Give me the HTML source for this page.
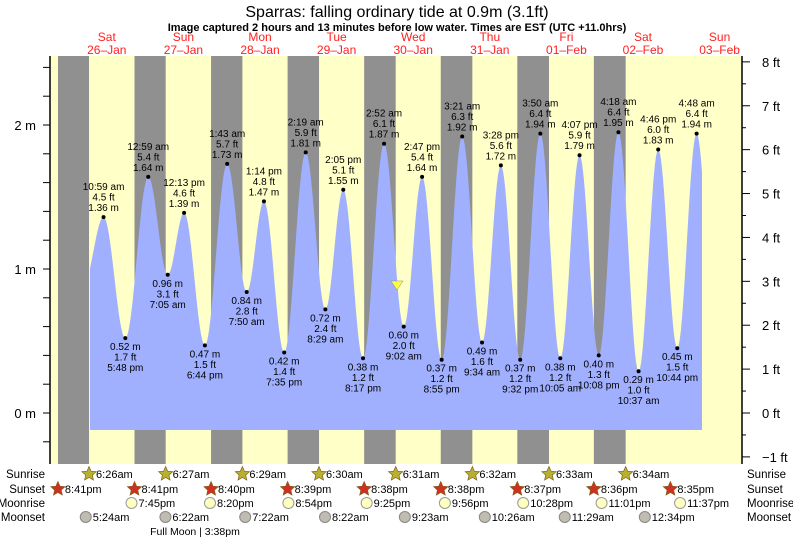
<!DOCTYPE html>
<html><head><meta charset="utf-8">
<style>
body{margin:0;background:#fff;}
svg{display:block;font-family:"Liberation Sans",sans-serif;}
</style></head>
<body>
<svg id="s" width="793" height="538" xmlns="http://www.w3.org/2000/svg">
<text x="397" y="17" text-anchor="middle" font-size="16" fill="#000">Sparras: falling  ordinary tide at 0.9m (3.1ft)</text>
<text x="397" y="31" text-anchor="middle" font-size="11" font-weight="bold" fill="#000">Image captured 2 hours and 13 minutes before low water. Times are EST (UTC +11.0hrs)</text>
</svg>
<script>
var s=document.getElementById('s'),NS='http://www.w3.org/2000/svg';
function el(t,a,txt){var e=document.createElementNS(NS,t);for(var k in a)e.setAttribute(k,a[k]);if(txt!=null)e.textContent=txt;s.appendChild(e);return e;}
var X0=68.5,DAY=76.6;
function tx(d,h,m){return X0+DAY*(d+(h+m/60)/24);}
function ty(v){return 413-144*v;}
function pt(str){var p=str.match(/(\d+):(\d+)\s*(am|pm)/);var h=+p[1]%12;if(p[3]=='pm')h+=12;return [h,+p[2]];}
el('rect',{x:50,y:56,width:692,height:408,fill:'#ffffc8'});
var sr=['6:26am','6:27am','6:29am','6:30am','6:31am','6:32am','6:33am','6:34am'];
var ss=['8:41pm','8:41pm','8:40pm','8:39pm','8:38pm','8:38pm','8:37pm','8:36pm','8:35pm'];
for(var i=0;i<8;i++){var a=pt(sr[i]),b=pt(ss[i]);var x1=tx(i-1,b[0],b[1]),x2=tx(i,a[0],a[1]);if(i==0)x1=58;el('rect',{x:x1,y:56,width:x2-x1,height:408,fill:'#909090'});}
var T=[[0,10,59,1.36,'H'],[0,17,48,0.52,'L'],[1,0,59,1.64,'H'],[1,7,5,0.96,'L'],[1,12,13,1.39,'H'],[1,18,44,0.47,'L'],
[2,1,43,1.73,'H'],[2,7,50,0.84,'L'],[2,13,14,1.47,'H'],[2,19,35,0.42,'L'],[3,2,19,1.81,'H'],[3,8,29,0.72,'L'],[3,14,5,1.55,'H'],[3,20,17,0.38,'L'],
[4,2,52,1.87,'H'],[4,9,2,0.60,'L'],[4,14,47,1.64,'H'],[4,20,55,0.37,'L'],[5,3,21,1.92,'H'],[5,9,34,0.49,'L'],[5,15,28,1.72,'H'],[5,21,32,0.37,'L'],
[6,3,50,1.94,'H'],[6,10,5,0.38,'L'],[6,16,7,1.79,'H'],[6,22,8,0.40,'L'],[7,4,18,1.95,'H'],[7,10,37,0.29,'L'],[7,16,46,1.83,'H'],[7,22,44,0.45,'L'],[8,4,48,1.94,'H']];
var P=[[tx(0,4,45),0.9]];T.forEach(function(t){P.push([tx(t[0],t[1],t[2]),t[3]]);});P.push([tx(8,11,0),0.4]);
var xs=90,xe=702,d='M'+xs+',430';
for(var x=xs;x<=xe;x+=1){for(var j=0;j<P.length-1;j++)if(x>=P[j][0]&&x<=P[j+1][0])break;var f=(x-P[j][0])/(P[j+1][0]-P[j][0]);var v=P[j][1]+(P[j+1][1]-P[j][1])*(1-Math.cos(Math.PI*f))/2;d+=' L'+x+','+ty(v).toFixed(1);}
d+=' L'+xe+',430 Z';el('path',{d:d,fill:'#a0b0ff'});
function fmt(h,m){var ap=h<12?'am':'pm';var hh=h%12;if(hh==0)hh=12;return hh+':'+(m<10?'0':'')+m+' '+ap;}
T.forEach(function(t){var x=tx(t[0],t[1],t[2]),y=ty(t[3]);el('circle',{cx:x,cy:y,r:2,fill:'#000'});var ft=(t[3]/0.3048).toFixed(1)+' ft',m=t[3].toFixed(2)+' m',tm=fmt(t[1],t[2]);
var L=t[4]=='H'?[tm,ft,m]:[m,ft,tm];var y0=t[4]=='H'?y-27:y+12;for(var k=0;k<3;k++)el('text',{x:x,y:y0+k*10.5,'text-anchor':'middle','font-size':'10',fill:'#000'},L[k]);});
el('polygon',{points:'391,281 403,281 397,290',fill:'#ffff40',stroke:'#888','stroke-width':0.5});
el('line',{x1:50,y1:56,x2:50,y2:464,stroke:'#000','stroke-width':1.5});
el('line',{x1:742,y1:56,x2:742,y2:464,stroke:'#000','stroke-width':1.5});
for(var v=-0.2;v<=2.5;v+=0.2){var y=ty(v);if(y<56||y>464)continue;el('line',{x1:43,y1:y,x2:50,y2:y,stroke:'#000'});}
['0 m','1 m','2 m'].forEach(function(l,i){el('text',{x:36,y:ty(i)+5,'text-anchor':'end','font-size':'13',fill:'#000'},l);});
for(var f=-1;f<=8;f+=0.5){var y=413-f*0.3048*144;if(y<55||y>464)continue;el('line',{x1:742,y1:y,x2:f%1==0?750:746,y2:y,stroke:'#000'});if(f%1==0)el('text',{x:762,y:y+5,'font-size':'13',fill:'#000'},(f<0?'\u22121':f)+' ft');}
var dn=['Sat','Sun','Mon','Tue','Wed','Thu','Fri','Sat','Sun'],dt=['26\u2013Jan','27\u2013Jan','28\u2013Jan','29\u2013Jan','30\u2013Jan','31\u2013Jan','01\u2013Feb','02\u2013Feb','03\u2013Feb'];
for(var i=0;i<9;i++){var x=tx(i,12,0);el('text',{x:x,y:41,'text-anchor':'middle','font-size':'12',fill:'#ff2020'},dn[i]);el('text',{x:x,y:54,'text-anchor':'middle','font-size':'12',fill:'#ff2020'},dt[i]);}
var rows=[['Sunrise',478],['Sunset',493],['Moonrise',507],['Moonset',521]];
rows.forEach(function(r){el('text',{x:45,y:r[1],'text-anchor':'end','font-size':'11.5',fill:'#000'},r[0]);el('text',{x:747,y:r[1],'font-size':'11.5',fill:'#000'},r[0]);});
function star(x,y,c){var p='';for(var k=0;k<10;k++){var a=-Math.PI/2+k*Math.PI/5,rr=k%2?3.5:7.5;p+=(x+rr*Math.cos(a)).toFixed(1)+','+(y+rr*Math.sin(a)).toFixed(1)+' ';}el('polygon',{points:p,fill:c,stroke:'#806020','stroke-width':0.7});}
function lab(x,y,t){el('text',{x:x+7,y:y+4,'font-size':'11',fill:'#000'},t);}
sr.forEach(function(t,i){var a=pt(t),x=tx(i,a[0],a[1]);star(x,474,'#b8b030');lab(x,474,t);});
ss.forEach(function(t,i){var a=pt(t),x=tx(i-1,a[0],a[1]);star(x,489,'#d03020');lab(x,489,t);});
['7:45pm','8:20pm','8:54pm','9:25pm','9:56pm','10:28pm','11:01pm','11:37pm'].forEach(function(t,i){var a=pt(t),x=tx(i,a[0],a[1]);el('circle',{cx:x,cy:503,r:5.5,fill:'#ffffc0',stroke:'#999'});lab(x,503,t);});
['5:24am','6:22am','7:22am','8:22am','9:23am','10:26am','11:29am','12:34pm'].forEach(function(t,i){var a=pt(t),x=tx(i,a[0],a[1]);el('circle',{cx:x,cy:517,r:5.5,fill:'#c0bcb0',stroke:'#888'});lab(x,517,t);});
el('text',{x:tx(1,15,38),y:535,'text-anchor':'middle','font-size':'10.5',fill:'#000'},'Full Moon | 3:38pm');
</script>
</body></html>
